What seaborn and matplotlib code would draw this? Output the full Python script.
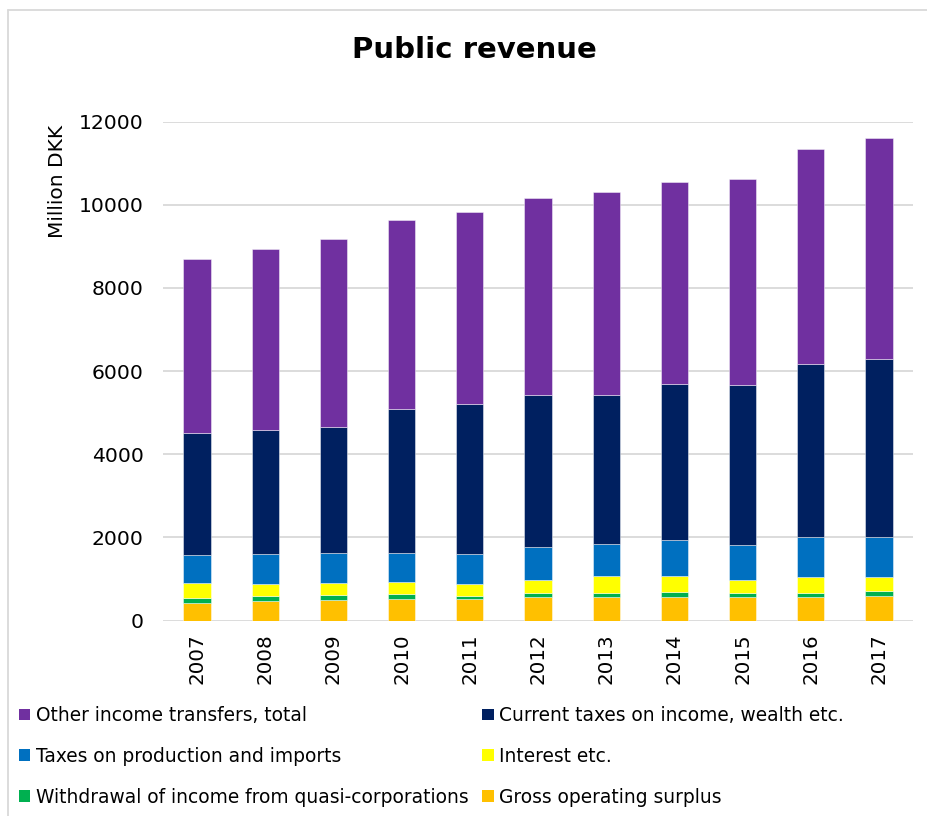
import matplotlib
matplotlib.use("Agg")
import matplotlib.pyplot as plt
import seaborn as sns
import numpy as np
import pandas as pd

years = ["2007", "2008", "2009", "2010", "2011", "2012", "2013", "2014", "2015", "2016", "2017"]

gross_operating_surplus = [430, 480, 490, 515, 520, 555, 560, 570, 570, 570, 595]
withdrawal_quasi_corp = [120, 113, 120, 111, 72, 106, 97, 127, 103, 103, 113]
interest = [346, 288, 303, 305, 288, 312, 416, 378, 305, 377, 343]
taxes_production_imports = [688, 721, 714, 690, 721, 801, 762, 872, 849, 955, 962]
current_taxes_income = [2931, 2989, 3037, 3463, 3600, 3648, 3597, 3738, 3841, 4175, 4274]
other_income_transfers = [4180, 4342, 4518, 4556, 4628, 4741, 4879, 4861, 4950, 5160, 5319]

series_names = [
    "Gross operating surplus",
    "Withdrawal of income from quasi-corporations",
    "Interest etc.",
    "Taxes on production and imports",
    "Current taxes on income, wealth etc.",
    "Other income transfers, total",
]
series_values = [
    gross_operating_surplus,
    withdrawal_quasi_corp,
    interest,
    taxes_production_imports,
    current_taxes_income,
    other_income_transfers,
]
series_colors = ["#FFC000", "#00B050", "#FFFF00", "#0070C0", "#002060", "#7030A0"]

y_ticks = [0, 2000, 4000, 6000, 8000, 10000, 12000]

sns.set_theme(style="white")
plt.rcParams["font.family"] = ["DejaVu Sans"]
plt.rcParams["text.color"] = "black"
plt.rcParams["xtick.color"] = "black"
plt.rcParams["ytick.color"] = "black"
plt.rcParams["axes.labelcolor"] = "black"

fig = plt.figure(figsize=(9.28, 8.16), dpi=100)
ax = fig.add_axes([163 / 928, 1 - 620.5 / 816, 750 / 928, 498.8 / 816])

bottom = np.zeros(len(years))
for name, vals, col in zip(series_names, series_values, series_colors):
    df = pd.DataFrame({"year": years, "value": vals})
    sns.barplot(data=df, x="year", y="value", bottom=bottom, color=col,
                width=0.4, ax=ax, label=name, saturation=1,
                edgecolor=(1, 1, 1, 0.45), linewidth=0.7, zorder=3)
    bottom = bottom + np.array(vals)

ax.set_xlim(-0.5, len(years) - 0.5)
ax.set_ylim(0, 12000)
ax.set_yticks(y_ticks)
ax.set_yticklabels([str(t) for t in y_ticks], fontsize=14.7)
ax.tick_params(axis="y", length=0, pad=14)
ax.tick_params(axis="x", length=0, pad=9)
plt.setp(ax.get_xticklabels(), rotation=90, fontsize=14.3)
ax.set_xlabel("")
ax.set_ylabel("Million DKK", fontsize=14.5)
ax.yaxis.set_label_coords(-0.128, 0.881)
ax.yaxis.grid(True, color="#D9D9D9", linewidth=1.3, zorder=0)
ax.set_axisbelow(True)
for s in ax.spines.values():
    s.set_visible(False)
if ax.legend_:
    ax.legend_.remove()

fig.text(474 / 928, 1 - 50 / 816, "Public revenue", ha="center", va="center",
         fontsize=21, fontweight="bold")

# legend laid out in two columns: rows read left-to-right
h, l = ax.get_legend_handles_labels()
lookup = dict(zip(l, h))
col_order = [
    "Other income transfers, total",
    "Taxes on production and imports",
    "Withdrawal of income from quasi-corporations",
    "Current taxes on income, wealth etc.",
    "Interest etc.",
    "Gross operating surplus",
]
leg = fig.legend([lookup[n] for n in col_order], col_order, ncol=2,
                 loc="upper left", bbox_to_anchor=(19 / 928, 1 - 706 / 816),
                 frameon=False, fontsize=13.4, handlelength=0.6, handleheight=0.6,
                 handletextpad=0.3, columnspacing=0.75, labelspacing=1.18,
                 borderaxespad=0, borderpad=0)
for lh in leg.legend_handles:
    lh.set_edgecolor("none")

# thin frame around the chart
fig.add_artist(plt.Line2D([8 / 928, 8 / 928], [0, 1 - 10 / 816], transform=fig.transFigure,
                          color="#D9D9D9", linewidth=1.3))
fig.add_artist(plt.Line2D([8 / 928, 1], [1 - 10 / 816, 1 - 10 / 816], transform=fig.transFigure,
                          color="#D9D9D9", linewidth=1.3))

fig.savefig("out.png", dpi=100, facecolor="white")
